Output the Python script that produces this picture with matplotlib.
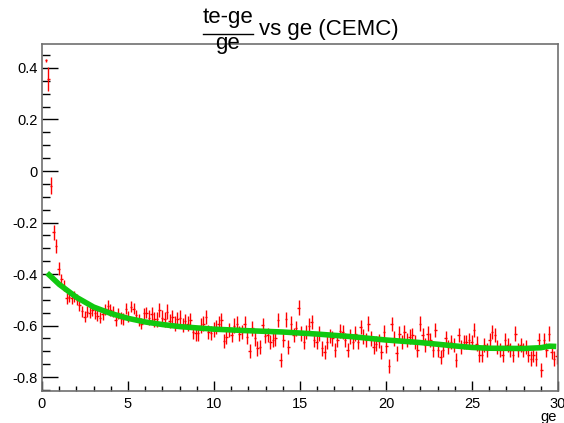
import numpy as np
import matplotlib
matplotlib.use("Agg")
import matplotlib.pyplot as plt

plt.rcParams['font.family'] = ['Liberation Sans', 'DejaVu Sans']
plt.rcParams['axes.unicode_minus'] = False

# bin layout: 200 bins of 0.15 in ge
nbins = 200
bin_w = 0.15
xc = np.arange(nbins) * bin_w + bin_w / 2

# (te-ge)/ge per bin
ratio = [
    np.nan, 0.430, 0.357, -0.058, -0.238, -0.292, -0.380, -0.420, -0.445, -0.494,
    -0.488, -0.494, -0.488, -0.500, -0.520, -0.545, -0.566, -0.546, -0.550, -0.540,
    -0.553, -0.562, -0.569, -0.556, -0.537, -0.524, -0.540, -0.546, -0.580, -0.553,
    -0.570, -0.574, -0.534, -0.566, -0.527, -0.534, -0.560, -0.579, -0.592, -0.553,
    -0.550, -0.569, -0.556, -0.576, -0.576, -0.540, -0.569, -0.576, -0.546, -0.582,
    -0.566, -0.592, -0.575, -0.569, -0.598, -0.582, -0.592, -0.579, -0.624, -0.630,
    -0.630, -0.600, -0.592, -0.566, -0.624, -0.628, -0.615, -0.605, -0.592, -0.579,
    -0.660, -0.645, -0.618, -0.637, -0.600, -0.592, -0.631, -0.624, -0.592, -0.643,
    -0.699, -0.611, -0.650, -0.689, -0.683, -0.599, -0.641, -0.637, -0.663, -0.655,
    -0.650, -0.579, -0.734, -0.656, -0.576, -0.683, -0.592, -0.637, -0.611, -0.530,
    -0.631, -0.663, -0.624, -0.600, -0.586, -0.656, -0.663, -0.631, -0.689, -0.702,
    -0.663, -0.641, -0.650, -0.695, -0.656, -0.620, -0.624, -0.656, -0.695, -0.643,
    -0.663, -0.631, -0.663, -0.605, -0.643, -0.656, -0.592, -0.650, -0.683, -0.670,
    -0.660, -0.702, -0.624, -0.680, -0.756, -0.595, -0.650, -0.708, -0.631, -0.663,
    -0.624, -0.656, -0.643, -0.637, -0.663, -0.695, -0.592, -0.637, -0.676, -0.631,
    -0.656, -0.695, -0.618, -0.695, -0.721, -0.695, -0.650, -0.683, -0.663, -0.676,
    -0.734, -0.637, -0.683, -0.663, -0.663, -0.656, -0.663, -0.618, -0.670, -0.715,
    -0.715, -0.676, -0.695, -0.656, -0.624, -0.637, -0.683, -0.695, -0.715, -0.656,
    -0.676, -0.695, -0.715, -0.631, -0.695, -0.676, -0.695, -0.683, -0.715, -0.728,
    -0.715, -0.728, -0.656, -0.773, -0.656, -0.695, -0.631, -0.702, -0.728, -0.720,
]

# statistical errors per bin
err_first = [np.nan, 0.005, 0.047, 0.033, 0.030, 0.027, 0.025]
err = np.concatenate([err_first, np.full(34, 0.022), np.full(nbins - 41, 0.028)])

# fitted trend
fit_x = [0.30, 1.0, 2.0, 3.0, 4.0, 5.0, 6.0, 7.0, 8.0, 9.0, 10.0, 12.0, 14.0,
         16.0, 18.0, 20.0, 22.0, 24.0, 25.0, 26.0, 28.0, 29.0, 29.5, 29.9]
fit_y = [-0.396, -0.440, -0.490, -0.528, -0.553, -0.572, -0.586, -0.596, -0.604,
         -0.609, -0.614, -0.620, -0.625, -0.633, -0.643, -0.656, -0.666, -0.679,
         -0.685, -0.688, -0.689, -0.686, -0.680, -0.681]

fig = plt.figure(figsize=(5.64, 4.23), dpi=100)
ax = fig.add_axes([42 / 564, 1 - 391 / 423, 516 / 564, 347 / 423])

ax.errorbar(xc, ratio, yerr=err, xerr=bin_w / 2, fmt='none',
            ecolor='red', elinewidth=1.0, capsize=0)
ax.plot(fit_x, fit_y, color='#10c810', lw=4.0, solid_capstyle='butt')

ax.set_xlim(0, 30)
ax.set_ylim(-0.854, 0.493)
ax.set_xticks([0, 5, 10, 15, 20, 25, 30])
ax.set_xticks(np.arange(0, 31, 1), minor=True)
ax.set_yticks([-0.8, -0.6, -0.4, -0.2, 0, 0.2, 0.4])
ax.set_yticks(np.arange(-0.85, 0.5, 0.05), minor=True)
ax.set_yticklabels(['-0.8', '-0.6', '-0.4', '-0.2', '0', '0.2', '0.4'])

ax.tick_params(axis='both', which='both', direction='in', top=False, right=False,
               labelsize=10.5, width=1.0, color='black')
ax.tick_params(axis='y', which='major', length=11.5, pad=3)
ax.tick_params(axis='y', which='minor', length=5.8)
ax.tick_params(axis='x', which='major', length=7.2, pad=4)
ax.tick_params(axis='x', which='minor', length=3.6)
for s in ax.spines.values():
    s.set_color('#707070')
    s.set_linewidth(1.2)

# axis title, right aligned under the frame
fig.text(557 / 564, 1 - 417 / 423, 'ge', ha='right', va='center', fontsize=10.5)

# title with the fraction written out
fs = 16
fig.text(228 / 564, 1 - 18 / 423, 'te-ge', ha='center', va='center', fontsize=fs)
fig.text(228 / 564, 1 - 44 / 423, 'ge', ha='center', va='center', fontsize=fs)
fig.add_artist(plt.Line2D([203 / 564, 253 / 564], [1 - 34 / 423, 1 - 34 / 423],
                          color='black', lw=1.0))
fig.text(259 / 564, 1 - 30 / 423, 'vs ge (CEMC)', ha='left', va='center', fontsize=fs)

fig.savefig('out.png', dpi=100, facecolor='white')
